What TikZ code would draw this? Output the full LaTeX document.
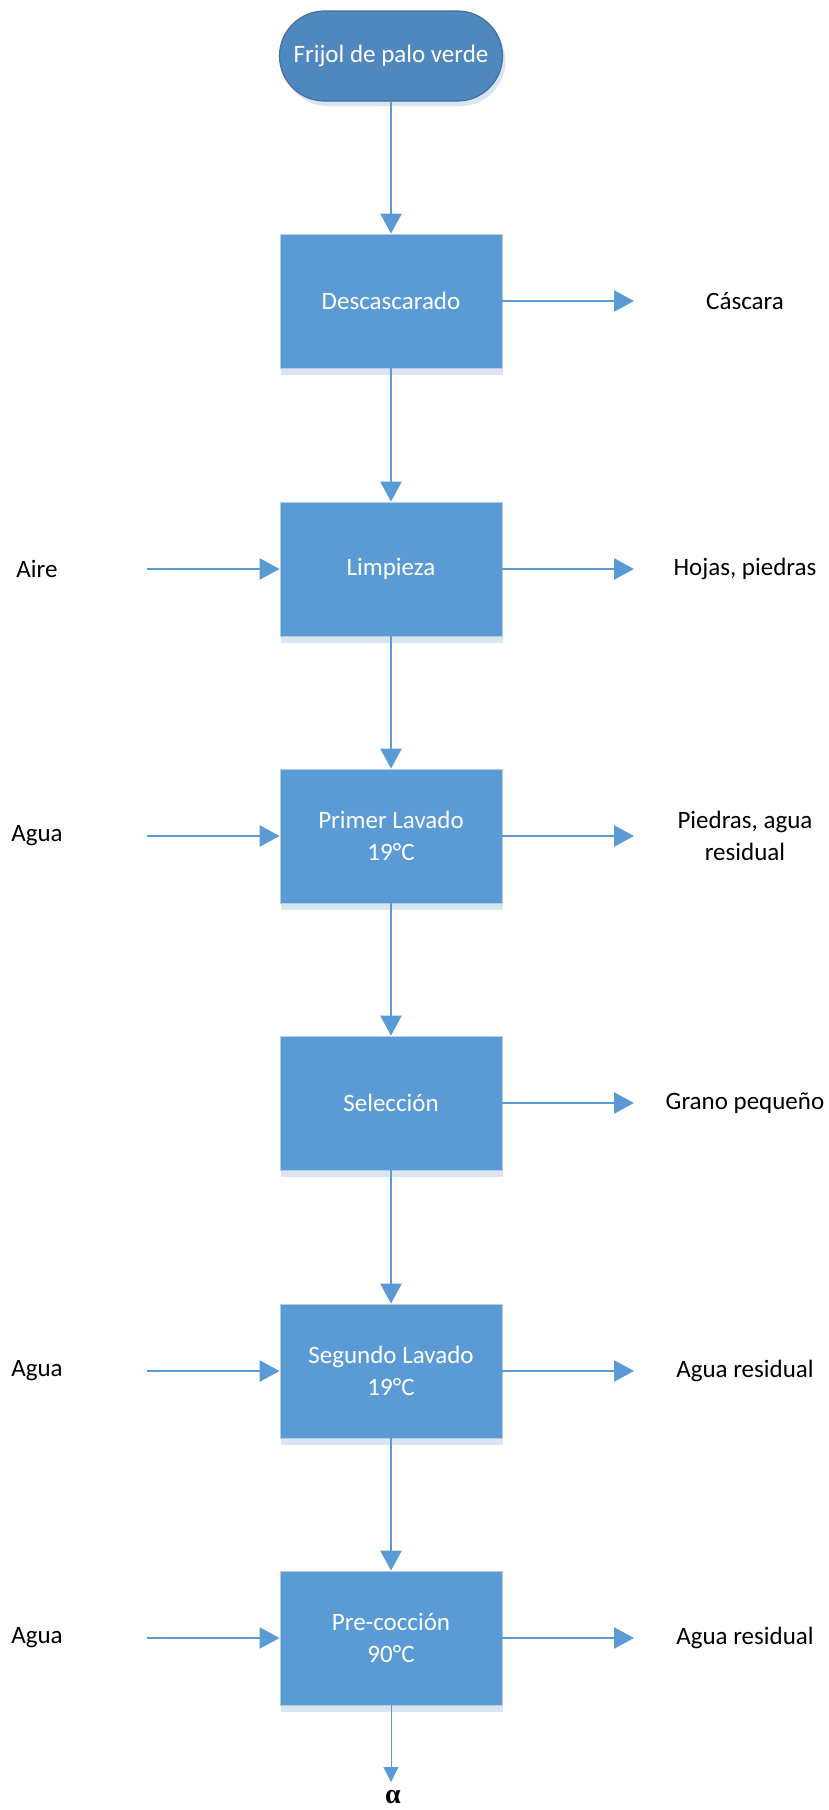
\documentclass[tikz,border=0pt]{standalone}
\usepackage{fontspec}
\setmainfont{Carlito}
\newfontfamily\greekserif{Liberation Serif}
\usetikzlibrary{arrows.meta,shapes.misc,shadows}
\definecolor{boxblue}{HTML}{5B9BD5}
\definecolor{termblue}{HTML}{4F87BF}
\definecolor{termedge}{HTML}{41719C}
\definecolor{refl}{HTML}{DAE5F2}
\definecolor{boxedge}{HTML}{B7CBE3}
\begin{document}
\begin{tikzpicture}[x=1pt,y=-1pt,
  procbox/.style={rectangle, draw=boxedge, line width=0.8pt, fill=boxblue,
    minimum width=222pt, minimum height=134pt, text=white, inner sep=0pt,
    font=\fontsize{25}{32}\selectfont, align=center,
    drop shadow={shadow xshift=1pt, shadow yshift=-7pt, fill=refl, opacity=1}},
  term/.style={rounded rectangle, draw=termedge, line width=1.2pt, fill=termblue,
    minimum width=223pt, minimum height=90pt, text=white, inner sep=0pt,
    font=\fontsize{25}{32}\selectfont,
    drop shadow={shadow xshift=3pt, shadow yshift=-5pt, fill=refl, opacity=1}},
  lbl/.style={font=\fontsize{25}{32}\selectfont, align=center, text=black, inner sep=0pt},
  flow/.style={draw=boxblue, line width=2.6pt, -{Triangle[length=20pt,width=21pt]}},
  thinflow/.style={draw=boxblue, line width=1pt, -{Triangle[length=15pt,width=15pt]}}
]
\useasboundingbox (0,0) rectangle (828,1810);
\fill[white] (0,0) rectangle (828,1810);

\node[term] (t0) at (391,56) {Frijol de palo verde};
\node[procbox] (b1) at (391,301) {Descascarado};
\node[procbox] (b2) at (391,569) {Limpieza};
\node[procbox] (b3) at (391,836) {Primer Lavado\\19°C};
\node[procbox] (b4) at (391,1103) {Selección};
\node[procbox] (b5) at (391,1371) {Segundo Lavado\\19°C};
\node[procbox] (b6) at (391,1638) {Pre-cocción\\90°C};

% left inputs
\node[lbl] (l2) at (37,569) {Aire};
\node[lbl] (l3) at (37,836) {Agua};
\node[lbl] (l5) at (37,1371) {Agua};
\node[lbl] (l6) at (37,1638) {Agua};
\coordinate (s2) at (147,569);
\coordinate (s3) at (147,836);
\coordinate (s5) at (147,1371);
\coordinate (s6) at (147,1638);

% right outputs
\node[lbl] (r1) at (745,301) {Cáscara};
\node[lbl] (r2) at (745,569) {Hojas, piedras};
\node[lbl] (r3) at (745,836) {Piedras, agua\\residual};
\node[lbl] (r4) at (745,1103) {Grano pequeño};
\node[lbl] (r5) at (745,1371) {Agua residual};
\node[lbl] (r6) at (745,1638) {Agua residual};
\coordinate (e1) at (634,301);
\coordinate (e2) at (634,569);
\coordinate (e3) at (634,836);
\coordinate (e4) at (634,1103);
\coordinate (e5) at (634,1371);
\coordinate (e6) at (634,1638);

% bottom
\coordinate (end) at (391,1782);
\node[font=\fontsize{28}{30}\selectfont\greekserif\bfseries, inner sep=0pt] (alpha) at (393,1797) {α};

% vertical flow
\draw[flow] (t0.south) -- (b1.north);
\draw[flow] (b1.south) -- (b2.north);
\draw[flow] (b2.south) -- (b3.north);
\draw[flow] (b3.south) -- (b4.north);
\draw[flow] (b4.south) -- (b5.north);
\draw[flow] (b5.south) -- (b6.north);
\draw[thinflow] (b6.south) -- (end);

% inputs
\draw[flow] (s2) -- (b2.west);
\draw[flow] (s3) -- (b3.west);
\draw[flow] (s5) -- (b5.west);
\draw[flow] (s6) -- (b6.west);

% outputs
\draw[flow] (b1.east) -- (e1);
\draw[flow] (b2.east) -- (e2);
\draw[flow] (b3.east) -- (e3);
\draw[flow] (b4.east) -- (e4);
\draw[flow] (b5.east) -- (e5);
\draw[flow] (b6.east) -- (e6);
\end{tikzpicture}
\end{document}
